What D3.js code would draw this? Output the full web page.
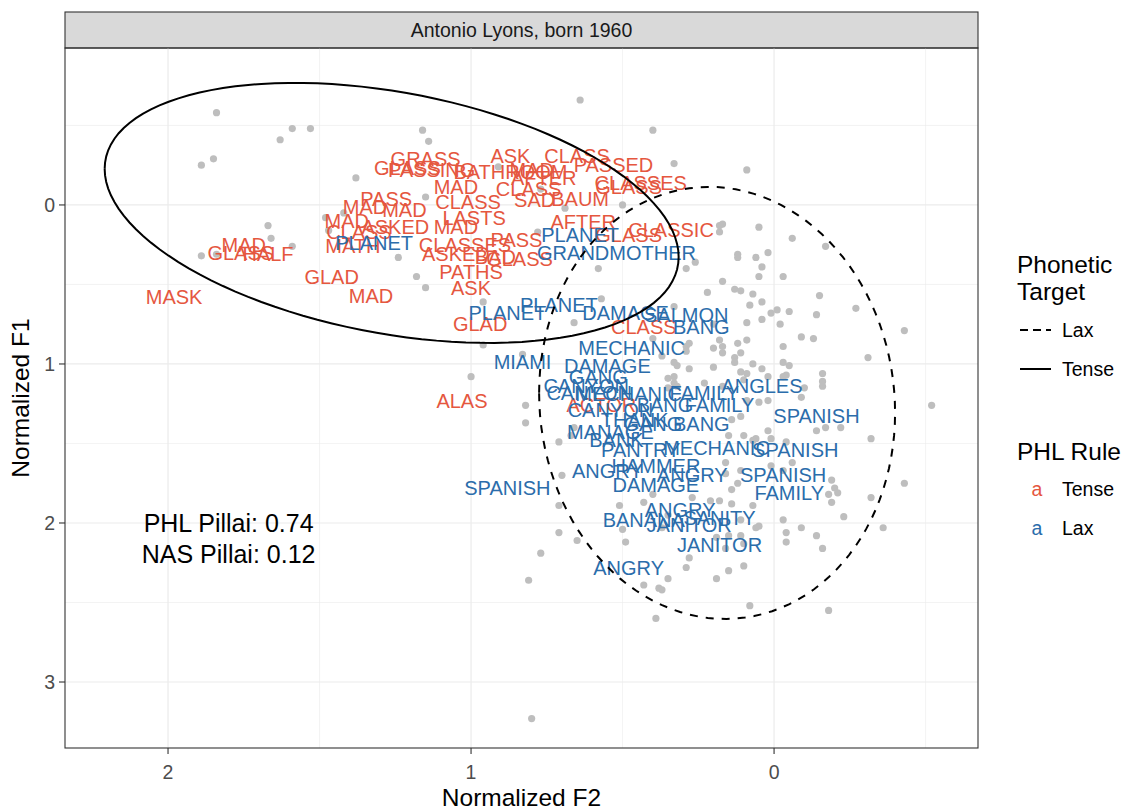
<!DOCTYPE html>
<html>
<head>
<meta charset="utf-8">
<script src="https://cdn.jsdelivr.net/npm/d3@7"></script>
<style>
  body { margin: 0; background: #fff; }
  text { font-family: "Liberation Sans", Arial, sans-serif; }
</style>
</head>
<body>
<svg id="chart" width="1126" height="811"></svg>
<script>
// other vowel tokens (grey), [F2, F1]
const otherTokens = [
  [1.84,-0.58],[1.59,-0.48],[1.53,-0.48],[1.63,-0.41],[1.85,-0.29],[1.89,-0.25],[1.16,-0.47],[1.14,-0.40],
  [1.38,-0.17],[1.15,-0.05],[1.48,0.08],[1.42,0.05],[0.91,-0.24],[1.67,0.13],[1.66,0.21],[1.59,0.26],
  [1.89,0.32],[1.84,0.31],[1.47,0.16],[1.24,0.33],[1.18,0.45],[1.15,0.52],[0.33,-0.26],[0.50,0.00],
  [0.69,0.02],[0.77,-0.10],[0.17,0.12],[0.18,0.17],[0.58,0.40],[0.29,0.40],[0.26,0.36],[0.17,0.48],
  [0.22,0.55],[0.96,0.61],[0.57,0.59],[0.33,0.64],[0.78,0.17],[0.64,-0.66],[0.40,-0.47],[0.09,-0.22],
  [0.05,0.14],[-0.06,0.21],[0.18,0.13],[-0.17,0.26],[0.12,0.31],[0.12,0.33],[0.02,0.30],[0.06,0.33],
  [0.04,0.39],[0.05,0.45],[-0.03,0.45],[0.13,0.53],[0.11,0.54],[0.07,0.56],[0.04,0.61],[-0.15,0.57],
  [0.08,0.63],[-0.01,0.66],[0.01,0.68],[-0.05,0.67],[-0.14,0.69],[-0.27,0.65],[-0.43,0.79],[0.04,0.72],
  [0.09,0.74],[-0.02,0.75],[-0.09,0.83],[-0.13,0.84],[0.09,0.85],[0.12,0.87],[0.18,0.85],[0.20,0.90],
  [0.17,0.89],[-0.03,0.89],[0.17,0.93],[0.11,0.93],[0.13,0.96],[0.13,0.99],[-0.03,0.99],[-0.31,0.96],
  [0.07,1.00],[0.04,1.03],[0.11,1.05],[0.09,1.06],[0.20,1.02],[0.28,1.03],[0.32,1.01],[0.29,0.89],
  [0.29,0.92],[0.28,0.87],[0.37,0.95],[0.40,0.84],[0.33,1.08],[0.35,1.09],[0.33,1.12],[0.23,1.12],
  [-0.04,1.07],[-0.16,1.06],[-0.16,1.11],[-0.16,1.14],[0.02,1.08],[-0.03,1.08],[0.96,0.88],[1.00,1.08],
  [0.82,1.26],[0.82,1.37],[0.66,0.74],[0.33,0.99],[0.20,0.75],[0.35,1.15],[0.66,1.40],[0.83,0.94],
  [-0.05,1.01],[0.32,1.14],[0.17,1.14],[0.10,1.10],[-0.10,1.15],[0.02,1.23],[0.05,1.24],[0.09,1.23],
  [-0.09,1.21],[0.14,1.35],[0.11,1.33],[0.02,1.42],[-0.14,1.42],[-0.17,1.40],[-0.22,1.40],[-0.32,1.47],
  [-0.04,1.49],[0.10,1.45],[0.15,1.45],[0.06,1.47],[0.67,1.45],[0.71,1.49],[0.70,1.70],[0.71,1.89],
  [0.51,1.89],[0.11,1.67],[0.14,1.79],[0.01,1.64],[-0.06,1.62],[-0.19,1.73],[-0.20,1.78],[-0.21,1.81],
  [-0.32,1.84],[0.43,1.87],[0.40,1.82],[0.35,1.95],[0.27,1.84],[0.21,1.86],[0.18,1.86],[0.14,1.88],
  [0.07,1.89],[0.12,1.75],[0.16,1.69],[0.16,1.62],[0.07,1.48],[0.01,1.47],[-0.03,1.98],[-0.09,2.03],
  [-0.04,2.06],[-0.14,2.08],[-0.16,2.16],[-0.23,1.96],[-0.19,1.87],[-0.18,1.82],[-0.03,1.67],[0.77,2.19],
  [0.81,2.36],[0.71,2.06],[0.28,2.22],[0.29,2.28],[0.19,2.35],[0.15,2.30],[0.10,2.27],[0.35,2.35],
  [0.43,2.39],[0.38,2.41],[0.50,2.04],[0.37,2.03],[0.19,2.09],[0.16,2.16],[0.10,2.13],[0.06,2.03],
  [0.11,1.98],[0.65,2.11],[0.49,2.12],[0.37,2.42],[0.15,2.08],[0.11,2.08],[0.05,2.02],[-0.04,2.12],
  [-0.36,2.03],[0.39,2.60],[0.08,2.52],[-0.18,2.55],[0.80,3.23],[-0.52,1.26],[-0.43,1.75]
];

// /ae/ tokens predicted tense by the PHL rule: [word, F2, F1]
const tenseWords = [
  ["MASK",1.98,0.58],["MAD",1.75,0.25],["GLASS",1.76,0.30],["HALF",1.67,0.31],["GLAD",1.46,0.45],
  ["MAD",1.33,0.57],["MAD",1.41,0.10],["PASS",1.28,-0.04],["MAD",1.35,0.01],["MAD",1.22,0.03],
  ["CLASS",1.37,0.17],["ASKED",1.25,0.14],["MATH",1.39,0.26],["GRASS",1.15,-0.29],["GLASS",1.21,-0.23],
  ["PASSING",1.13,-0.22],["ASK",0.87,-0.31],["CLASS",0.65,-0.31],["PASSED",0.53,-0.25],["BATHROOM",0.87,-0.21],
  ["MAD",0.80,-0.22],["AFTER",0.76,-0.17],["CLASSES",0.44,-0.14],["GLASS",0.48,-0.11],["MAD",1.05,-0.11],
  ["CLASS",1.01,-0.02],["CLASS",0.81,-0.10],["SAD",0.79,-0.03],["BAUM",0.64,-0.04],["LASTS",0.99,0.08],
  ["MAD",1.05,0.14],["AFTER",0.63,0.11],["CLASSIC",0.34,0.16],["GLASS",0.48,0.19],["PASS",0.85,0.22],
  ["CLASSES",1.02,0.25],["ASKED",1.05,0.31],["BAD",0.92,0.33],["GLASS",0.84,0.34],["PATHS",1.00,0.42],
  ["ASK",1.00,0.52],["GLAD",0.97,0.75],["CLASS",0.43,0.77],["ALAS",1.03,1.23],["ACTOR",0.57,1.26]
];

// /ae/ tokens predicted lax by the PHL rule
const laxWords = [
  ["PLANET",1.32,0.24],["PLANET",0.64,0.19],["GRANDMOTHER",0.52,0.30],["PLANET",0.88,0.68],["PLANET",0.71,0.63],
  ["DAMAGE",0.49,0.68],["SALMON",0.29,0.69],["BANG",0.24,0.77],["MECHANIC",0.47,0.90],["MIAMI",0.83,0.99],
  ["DAMAGE",0.55,1.01],["GANG",0.58,1.08],["CANYON",0.62,1.14],["CANYON",0.61,1.18],["MECHANIC",0.48,1.19],
  ["FAMILY",0.23,1.18],["ANGLES",0.04,1.14],["FAMILY",0.18,1.26],["CANYON",0.54,1.29],["BANG",0.36,1.26],
  ["THANK",0.46,1.35],["GANG",0.40,1.38],["BANG",0.24,1.38],["MANAGE",0.54,1.43],["BANK",0.52,1.48],
  ["PANTRY",0.44,1.54],["MECHANIC",0.19,1.53],["SPANISH",-0.07,1.54],["SPANISH",-0.14,1.33],["ANGRY",0.55,1.67],
  ["HAMMER",0.39,1.64],["ANGRY",0.27,1.70],["DAMAGE",0.39,1.76],["SPANISH",-0.03,1.70],["FAMILY",-0.05,1.81],
  ["SPANISH",0.88,1.78],["ANGRY",0.31,1.92],["BANANA",0.43,1.98],["SANITY",0.18,1.97],["JANITOR",0.28,2.01],
  ["JANITOR",0.18,2.14],["ANGRY",0.48,2.28]
];

// stat_ellipse summaries per phonetic target
const ellipseTargets = ["Tense", "Lax"];
const ellipseCenterF2 = [1.262, 0.188];
const ellipseCenterF1 = [0.050, 1.245];
const ellipseVarF2 = [0.897, 0.345];
const ellipseVarF1 = [0.6685, 1.8455];
const ellipseCovar = [-0.262, -0.036];

const xTicks = [2, 1, 0];
const yTicks = [0, 1, 2, 3];
const xMinor = [1.5, 0.5, -0.5];
const yMinor = [-0.5, 0.5, 1.5, 2.5];

const pillaiText = ["PHL Pillai: 0.74", "NAS Pillai: 0.12"];
const pillaiPos = [1.80, 2.08];

const RED = "#E5573F", BLUE = "#2B6DAB";

const svg = d3.select("#chart");
const panel = { left: 65, right: 978, top: 48, bottom: 748 };

const x = d3.scaleLinear().domain([2.34, -0.673]).range([panel.left, panel.right]);
const y = d3.scaleLinear().domain([-0.987, 3.415]).range([panel.top, panel.bottom]);

// strip
svg.append("rect")
    .attr("x", panel.left).attr("y", 12)
    .attr("width", panel.right - panel.left).attr("height", panel.top - 12)
    .attr("fill", "#D9D9D9").attr("stroke", "#333333").attr("stroke-width", 1.1);
svg.append("text")
    .attr("x", (panel.left + panel.right) / 2).attr("y", 30)
    .attr("text-anchor", "middle").attr("dominant-baseline", "central")
    .attr("font-size", 19.5).attr("fill", "#1A1A1A")
    .text("Antonio Lyons, born 1960");

// grid
const grid = svg.append("g");
xMinor.forEach(d => grid.append("line")
    .attr("x1", x(d)).attr("x2", x(d)).attr("y1", panel.top).attr("y2", panel.bottom)
    .attr("stroke", "#EBEBEB").attr("stroke-width", 0.6));
yMinor.forEach(d => grid.append("line")
    .attr("y1", y(d)).attr("y2", y(d)).attr("x1", panel.left).attr("x2", panel.right)
    .attr("stroke", "#EBEBEB").attr("stroke-width", 0.6));
xTicks.forEach(d => grid.append("line")
    .attr("x1", x(d)).attr("x2", x(d)).attr("y1", panel.top).attr("y2", panel.bottom)
    .attr("stroke", "#EBEBEB").attr("stroke-width", 1.2));
yTicks.forEach(d => grid.append("line")
    .attr("y1", y(d)).attr("y2", y(d)).attr("x1", panel.left).attr("x2", panel.right)
    .attr("stroke", "#EBEBEB").attr("stroke-width", 1.2));

// grey points
svg.append("g").selectAll("circle")
  .data(otherTokens)
  .join("circle")
    .attr("cx", d => x(d[0]))
    .attr("cy", d => y(d[1]))
    .attr("r", 3.6)
    .attr("fill", "#BEBEBE");

// word labels
const labels = svg.append("g")
    .attr("font-size", 20)
    .attr("text-anchor", "middle")
    .attr("dominant-baseline", "central");
labels.selectAll("text.tense")
  .data(tenseWords)
  .join("text")
    .attr("class", "tense")
    .attr("x", d => x(d[1])).attr("y", d => y(d[2]))
    .attr("fill", RED)
    .text(d => d[0]);
labels.selectAll("text.lax")
  .data(laxWords)
  .join("text")
    .attr("class", "lax")
    .attr("x", d => x(d[1])).attr("y", d => y(d[2]))
    .attr("fill", BLUE)
    .text(d => d[0]);

// ellipses
const line = d3.line().x(d => x(d[0])).y(d => y(d[1]));
ellipseTargets.forEach((t, i) => {
  const l11 = Math.sqrt(ellipseVarF2[i]);
  const l21 = ellipseCovar[i] / l11;
  const l22 = Math.sqrt(ellipseVarF1[i] - l21 * l21);
  const pts = d3.range(0, 361, 3).map(a => {
    const th = a * Math.PI / 180;
    return [ellipseCenterF2[i] + l11 * Math.cos(th),
            ellipseCenterF1[i] + l21 * Math.cos(th) + l22 * Math.sin(th)];
  });
  svg.append("path")
      .attr("d", line(pts))
      .attr("fill", "none")
      .attr("stroke", "black")
      .attr("stroke-width", 2)
      .attr("stroke-dasharray", t === "Lax" ? "8,8" : null);
});

// pillai annotation
svg.append("text")
    .attr("x", x(pillaiPos[0])).attr("y", y(pillaiPos[1]))
    .attr("text-anchor", "middle").attr("font-size", 25).attr("fill", "black")
  .selectAll("tspan")
  .data(pillaiText)
  .join("tspan")
    .attr("x", x(pillaiPos[0]))
    .attr("dy", (d, i) => i === 0 ? "-0.15em" : "1.25em")
    .text(d => d);

// panel border
svg.append("rect")
    .attr("x", panel.left).attr("y", panel.top)
    .attr("width", panel.right - panel.left).attr("height", panel.bottom - panel.top)
    .attr("fill", "none").attr("stroke", "#333333").attr("stroke-width", 1.1);

// axes
const xAxis = svg.append("g");
xTicks.forEach(d => {
  xAxis.append("line").attr("x1", x(d)).attr("x2", x(d))
      .attr("y1", panel.bottom).attr("y2", panel.bottom + 6)
      .attr("stroke", "#333333").attr("stroke-width", 1.1);
  xAxis.append("text").attr("x", x(d)).attr("y", panel.bottom + 24)
      .attr("text-anchor", "middle").attr("dominant-baseline", "central")
      .attr("font-size", 19.5).attr("fill", "#4D4D4D").text(d);
});
const yAxis = svg.append("g");
yTicks.forEach(d => {
  yAxis.append("line").attr("x1", panel.left - 6).attr("x2", panel.left)
      .attr("y1", y(d)).attr("y2", y(d))
      .attr("stroke", "#333333").attr("stroke-width", 1.1);
  yAxis.append("text").attr("x", panel.left - 10).attr("y", y(d))
      .attr("text-anchor", "end").attr("dominant-baseline", "central")
      .attr("font-size", 19.5).attr("fill", "#4D4D4D").text(d);
});
svg.append("text")
    .attr("x", (panel.left + panel.right) / 2).attr("y", 797)
    .attr("text-anchor", "middle").attr("dominant-baseline", "central")
    .attr("font-size", 24.5).text("Normalized F2");
svg.append("text")
    .attr("transform", `translate(20,${(panel.top + panel.bottom) / 2}) rotate(-90)`)
    .attr("text-anchor", "middle").attr("dominant-baseline", "central")
    .attr("font-size", 24.5).text("Normalized F1");

// legend
const legend = svg.append("g").attr("transform", "translate(1017,0)");
legend.append("text").attr("x", 0).attr("y", 273).attr("font-size", 24.5).text("Phonetic");
legend.append("text").attr("x", 0).attr("y", 300).attr("font-size", 24.5).text("Target");
const lineKeys = [["Lax", "8,5"], ["Tense", null]];
lineKeys.forEach((k, i) => {
  const ky = 330 + i * 39;
  legend.append("line").attr("x1", 3).attr("x2", 34).attr("y1", ky).attr("y2", ky)
      .attr("stroke", "black").attr("stroke-width", 2)
      .attr("stroke-dasharray", k[1]);
  legend.append("text").attr("x", 45).attr("y", ky)
      .attr("dominant-baseline", "central").attr("font-size", 19.5).text(k[0]);
});
legend.append("text").attr("x", 0).attr("y", 460).attr("font-size", 24.5).text("PHL Rule");
const colorKeys = [["Tense", RED], ["Lax", BLUE]];
colorKeys.forEach((k, i) => {
  const ky = 489 + i * 39;
  legend.append("text").attr("x", 20).attr("y", ky)
      .attr("text-anchor", "middle").attr("dominant-baseline", "central")
      .attr("font-size", 19.5).attr("fill", k[1]).text("a");
  legend.append("text").attr("x", 45).attr("y", ky)
      .attr("dominant-baseline", "central").attr("font-size", 19.5).text(k[0]);
});
</script>
</body>
</html>
